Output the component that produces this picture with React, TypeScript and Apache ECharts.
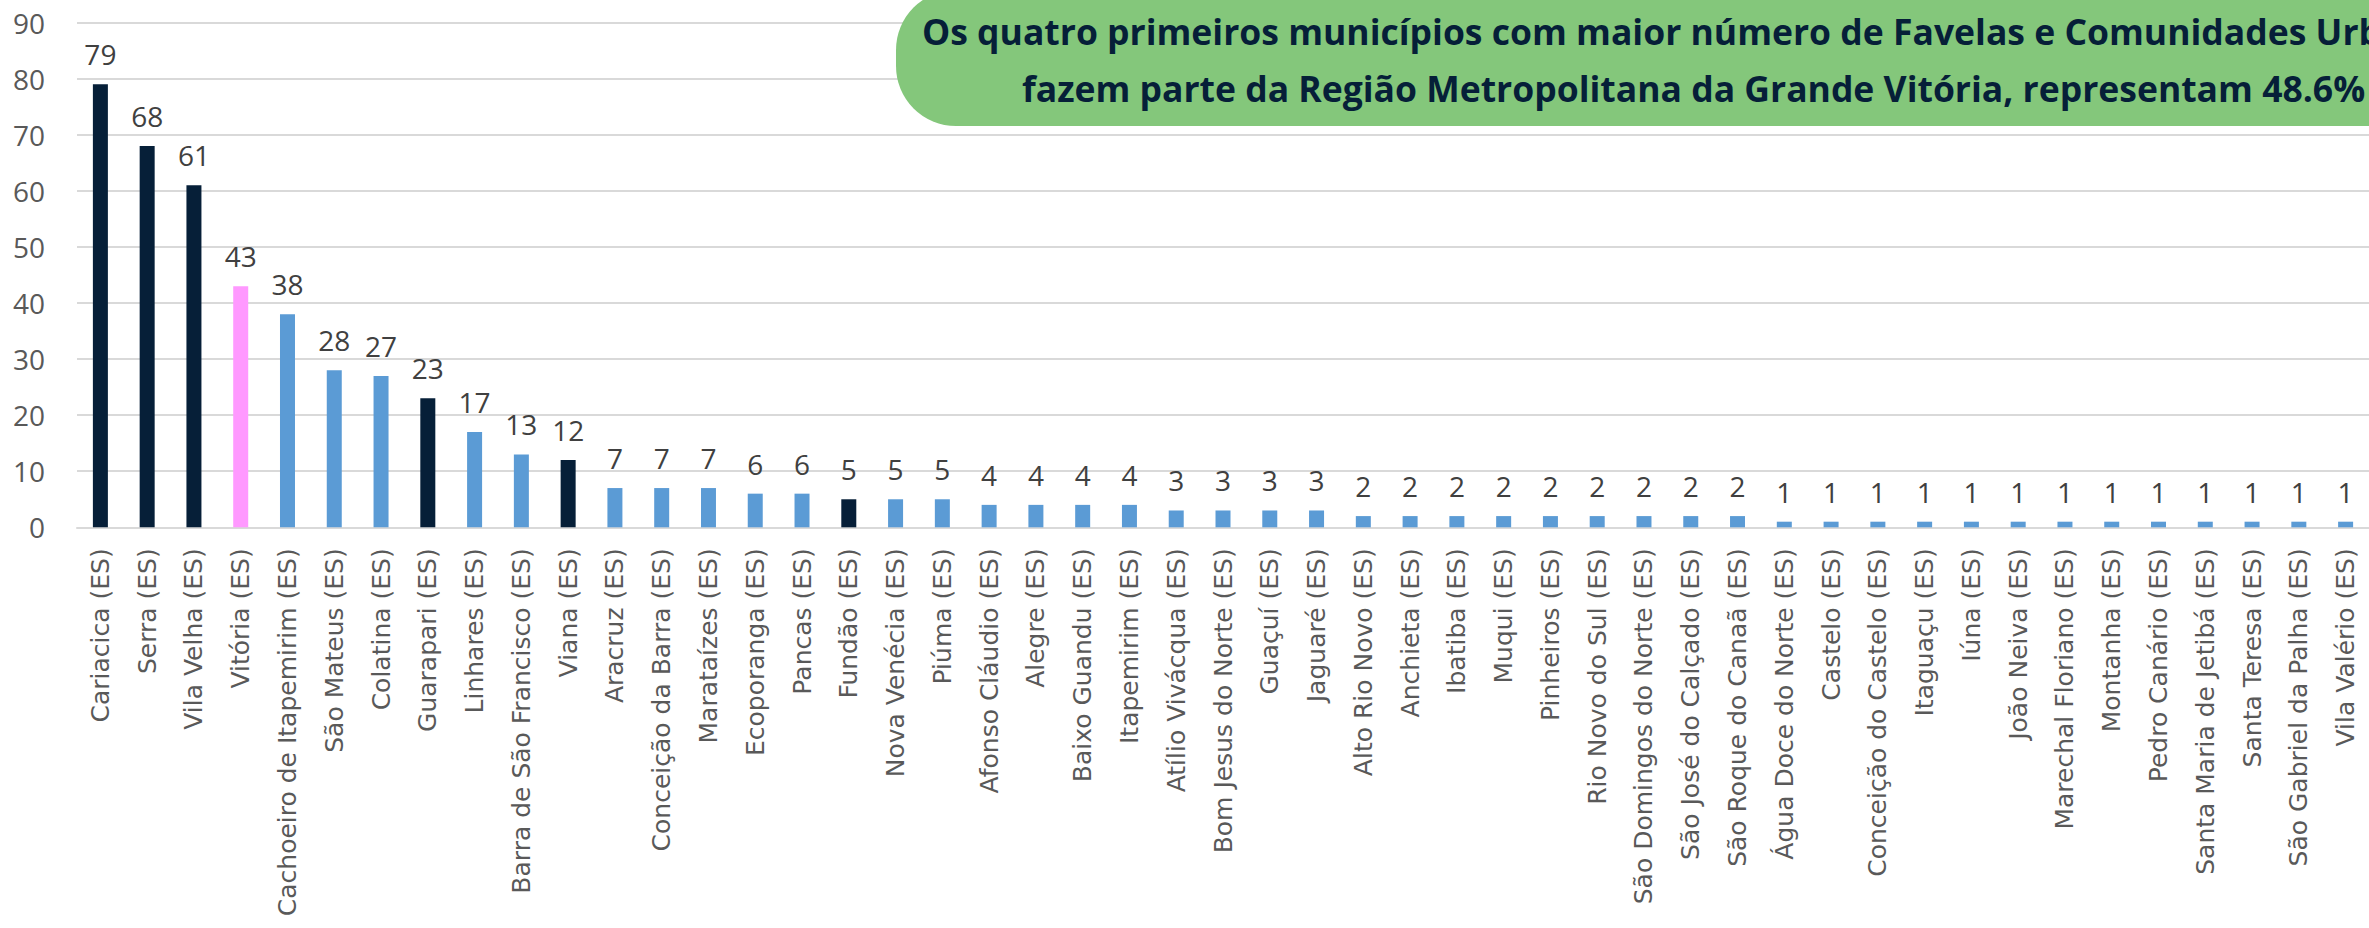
import React, { useEffect, useRef } from "react";
import * as echarts from "echarts";

const categories = [
  "Cariacica (ES)", "Serra (ES)", "Vila Velha (ES)", "Vitória (ES)", "Cachoeiro de Itapemirim (ES)",
  "São Mateus (ES)", "Colatina (ES)", "Guarapari (ES)", "Linhares (ES)", "Barra de São Francisco (ES)",
  "Viana (ES)", "Aracruz (ES)", "Conceição da Barra (ES)", "Marataízes (ES)", "Ecoporanga (ES)",
  "Pancas (ES)", "Fundão (ES)", "Nova Venécia (ES)", "Piúma (ES)", "Afonso Cláudio (ES)",
  "Alegre (ES)", "Baixo Guandu (ES)", "Itapemirim (ES)", "Atílio Vivácqua (ES)", "Bom Jesus do Norte (ES)",
  "Guaçuí (ES)", "Jaguaré (ES)", "Alto Rio Novo (ES)", "Anchieta (ES)", "Ibatiba (ES)",
  "Muqui (ES)", "Pinheiros (ES)", "Rio Novo do Sul (ES)", "São Domingos do Norte (ES)", "São José do Calçado (ES)",
  "São Roque do Canaã (ES)", "Água Doce do Norte (ES)", "Castelo (ES)", "Conceição do Castelo (ES)", "Itaguaçu (ES)",
  "Iúna (ES)", "João Neiva (ES)", "Marechal Floriano (ES)", "Montanha (ES)", "Pedro Canário (ES)",
  "Santa Maria de Jetibá (ES)", "Santa Teresa (ES)", "São Gabriel da Palha (ES)", "Vila Valério (ES)",
];

const values = [
  79, 68, 61, 43, 38, 28, 27, 23, 17, 13,
  12, 7, 7, 7, 6, 6, 5, 5, 5, 4,
  4, 4, 4, 3, 3, 3, 3, 2, 2, 2,
  2, 2, 2, 2, 2, 2, 1, 1, 1, 1,
  1, 1, 1, 1, 1, 1, 1, 1, 1,
];

// Metropolitan region municipalities (dark) and the capital (pink)
const metroGroup = ["Cariacica (ES)", "Serra (ES)", "Vila Velha (ES)", "Guarapari (ES)", "Viana (ES)", "Fundão (ES)"];
const capitalGroup = ["Vitória (ES)"];

const titleLines = [
  "Os quatro primeiros municípios com maior número de Favelas e Comunidades Urbanas",
  "fazem parte da Região Metropolitana da Grande Vitória, representam 48.6%",
];

const DARK = "#061F38";
const PINK = "#FF99FF";
const BLUE = "#5B9BD5";
const NUMFONT = "'Open Sans', 'DejaVu Sans Condensed', sans-serif";

export default function App() {
  const ref = useRef<HTMLDivElement>(null);

  useEffect(() => {
    if (!ref.current) return;
    const chart = echarts.init(ref.current, null, { renderer: "svg" });
    const colorFor = (c: string) =>
      metroGroup.includes(c) ? DARK : capitalGroup.includes(c) ? PINK : BLUE;

    chart.setOption({
      animation: false,
      backgroundColor: "#ffffff",
      grid: { left: 77, right: 0, top: 22.7, bottom: 400.7, containLabel: false },
      xAxis: {
        type: "category",
        data: categories,
        axisTick: { show: false },
        axisLine: { lineStyle: { color: "#D9D9D9", width: 2 } },
        axisLabel: {
          interval: 0,
          rotate: 90,
          margin: 21,
          fontFamily: "'DejaVu Sans', sans-serif",
          fontSize: 25,
          color: "#595959",
        },
      },
      yAxis: {
        type: "value",
        min: 0,
        max: 90,
        interval: 10,
        axisLine: { show: false },
        axisTick: { show: false },
        splitLine: { lineStyle: { color: "#D9D9D9", width: 2 } },
        axisLabel: { fontFamily: NUMFONT, fontSize: 28, color: "#595959", margin: 32 },
      },
      series: [
        {
          type: "bar",
          barWidth: 15,
          data: values.map((v, i) => ({ value: v, itemStyle: { color: colorFor(categories[i]) } })),
          label: {
            show: true,
            position: "top",
            distance: 16,
            fontFamily: NUMFONT,
            fontSize: 28,
            color: "#404040",
          },
        },
      ],
      graphic: [
        {
          type: "rect",
          z: 100,
          shape: { x: 896, y: -10, width: 1600, height: 136, r: [60, 0, 0, 60] },
          style: { fill: "#84C77B" },
        },
        {
          type: "text",
          z: 101,
          x: 922,
          y: 31,
          style: {
            text: titleLines[0],
            fill: DARK,
            font: "bold 35.5px 'Open Sans', sans-serif",
            textAlign: "left",
            textVerticalAlign: "middle",
          },
        },
        {
          type: "text",
          z: 101,
          x: 1022,
          y: 88,
          style: {
            text: titleLines[1],
            fill: DARK,
            font: "bold 35.5px 'Open Sans', sans-serif",
            textAlign: "left",
            textVerticalAlign: "middle",
          },
        },
      ],
    });
    return () => chart.dispose();
  }, []);

  return (
    <div
      ref={ref}
      style={{ position: "fixed", left: 0, top: 0, width: 2369, height: 928, background: "#fff" }}
    />
  );
}
